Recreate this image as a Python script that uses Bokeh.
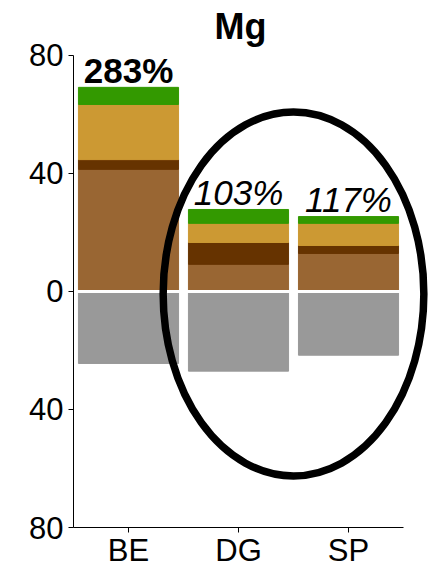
from bokeh.plotting import figure
from bokeh.models import Range1d, FixedTicker
from bokeh.core.properties import value
from bokeh.embed import file_html
from bokeh.resources import INLINE

categories = ["BE", "DG", "SP"]
brown = [41.4, 9.2, 12.9]
dark_brown = [3.3, 7.4, 2.7]
gold = [18.7, 6.5, 7.5]
green = [5.8, 4.7, 2.3]
gray = [24.4, 27.0, 21.6]
pct_labels = ["283%", "103%", "117%"]
y_ticks = [-80, -40, 0, 40, 80]
y_tick_labels = ["80", "40", "0", "40", "80"]
title = "Mg"

FONT = "Liberation Sans"
xpos = [i + 0.5 for i in range(len(categories))]
totals = [a + b + c + d for a, b, c, d in zip(brown, dark_brown, gold, green)]

p = figure(frame_width=358, frame_height=527, output_backend="svg", toolbar_location=None,
           x_range=Range1d(0, 3.2545), y_range=Range1d(-80, 98.64),
           min_border_left=73, min_border_right=8, min_border_top=0, min_border_bottom=0)

data = dict(x=xpos, brown=brown, dark=dark_brown, gold=gold, green=green)
p.vbar_stack(["brown", "dark", "gold", "green"], x="x", width=0.91, source=data,
             color=["#996633", "#663300", "#CC9933", "#339900"])
p.vbar(x=xpos, top=0, bottom=[-g for g in gray], width=0.91, color="#999999")
p.hspan(y=[0], line_color="white", line_width=3)

p.text(x=xpos[:1], y=totals[:1], text=pct_labels[:1], text_font_size="35px",
       text_font_style="bold", text_align="center", text_baseline="alphabetic",
       y_offset=-17, text_font=value(FONT), text_color="black")
p.text(x=xpos[1:], y=totals[1:], text=pct_labels[1:], text_font_size="35px",
       text_font_style="italic", text_align="center", text_baseline="alphabetic",
       y_offset=-17, text_font=value(FONT), text_color="black")
p.text(x=[1.518], y=[85.6], text=[title], text_font_size="36px",
       text_font_style="bold", text_align="center", text_baseline="alphabetic",
       y_offset=-12.5, text_font=value(FONT), text_color="black")

p.ellipse(x=2.0, y=-0.85, width=2.37, height=123.4, fill_color=None,
          line_color="black", line_width=7.5)

p.outline_line_color = None
p.grid.visible = False

p.xaxis.ticker = FixedTicker(ticks=xpos)
p.xaxis.major_label_overrides = {x: c for x, c in zip(xpos, categories)}
p.xaxis.bounds = (0, 3)
p.yaxis.ticker = FixedTicker(ticks=y_ticks)
p.yaxis.major_label_overrides = {t: l for t, l in zip(y_ticks, y_tick_labels)}
p.yaxis.bounds = (-80, 80)
for ax in (p.xaxis, p.yaxis):
    ax.major_label_text_font = FONT
    ax.major_label_text_font_size = "31px"
    ax.major_label_text_color = "black"
    ax.axis_line_color = "black"
    ax.major_tick_line_color = "black"
    ax.major_tick_out = 5
    ax.major_tick_in = 0
    ax.minor_tick_line_color = None
    ax.major_label_standoff = 5
p.xaxis.major_label_standoff = 0
p.xaxis.major_label_text_line_height = 0.9

open("out.html", "w").write(file_html(p, INLINE))
